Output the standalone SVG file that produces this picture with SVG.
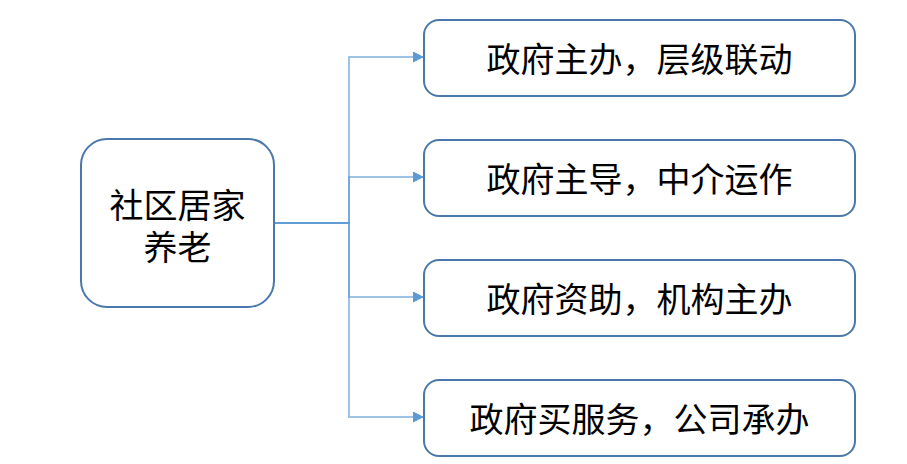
<svg xmlns="http://www.w3.org/2000/svg" width="907" height="464" viewBox="0 0 907 464">
<style>
.box{fill:#ffffff;stroke:#4a78aa;stroke-width:2}
.lbl{font-family:"Noto Sans CJK SC","Noto Sans",sans-serif;font-size:34px;fill:#000;text-anchor:middle;dominant-baseline:central}
.conn{fill:none;stroke:#5b9bd5;stroke-width:2;stroke-opacity:0.6}
</style>
<defs>
<marker id="arr" markerWidth="11" markerHeight="11" refX="11" refY="5.5" orient="auto" markerUnits="userSpaceOnUse">
<path d="M0,0 L11,5.5 L0,11 Z" fill="#5b9bd5"/>
</marker>
</defs>
<rect width="907" height="464" fill="#ffffff"/>
<g id="connectors">
<path class="conn" d="M274,223 H349 V57 H424" marker-end="url(#arr)"/>
<path class="conn" d="M274,223 H349 V177 H424" marker-end="url(#arr)"/>
<path class="conn" d="M274,223 H349 V297 H424" marker-end="url(#arr)"/>
<path class="conn" d="M274,223 H349 V417 H424" marker-end="url(#arr)"/>
</g>
<g id="root">
<rect class="box" x="81" y="139" width="193" height="168" rx="26"/>
<text class="lbl"><tspan x="177.5" y="203">社区居家</tspan><tspan x="177.5" y="245">养老</tspan></text>
</g>
<g id="n1">
<rect class="box" x="424" y="20" width="431" height="76" rx="15"/>
<text class="lbl" x="639.5" y="57">政府主办，层级联动</text>
</g>
<g id="n2">
<rect class="box" x="424" y="140" width="431" height="76" rx="15"/>
<text class="lbl" x="639.5" y="177">政府主导，中介运作</text>
</g>
<g id="n3">
<rect class="box" x="424" y="260" width="431" height="76" rx="15"/>
<text class="lbl" x="639.5" y="297">政府资助，机构主办</text>
</g>
<g id="n4">
<rect class="box" x="424" y="380" width="431" height="76" rx="15"/>
<text class="lbl" x="639.5" y="417">政府买服务，公司承办</text>
</g>
</svg>
